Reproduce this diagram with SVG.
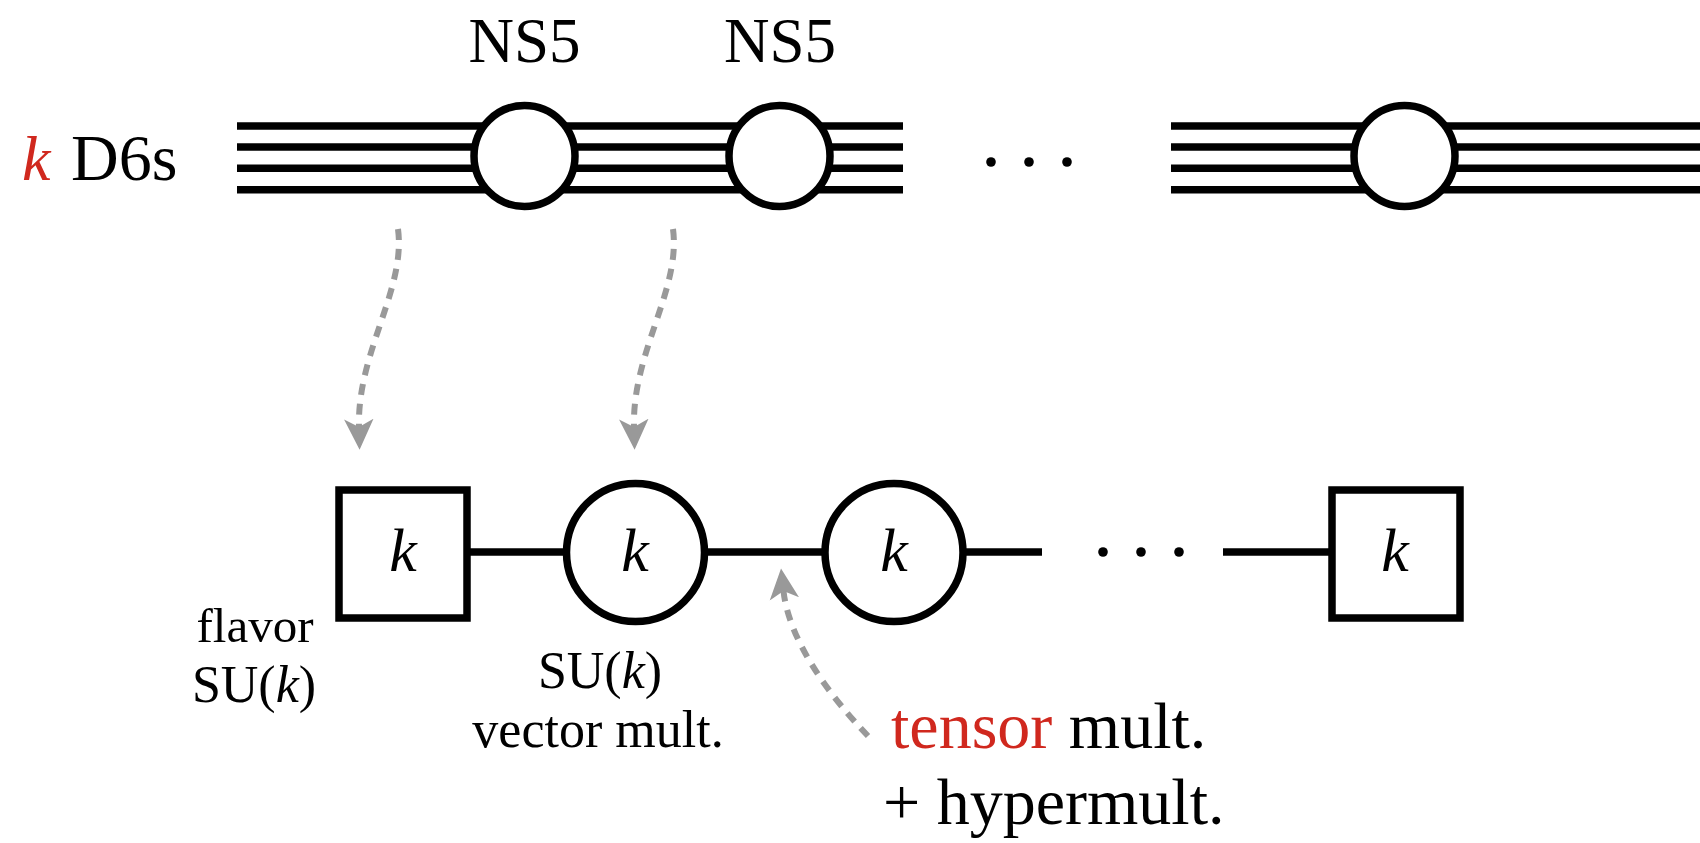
<svg xmlns="http://www.w3.org/2000/svg" width="1700" height="843" viewBox="0 0 1700 843">
  <style>
    text { font-family: "Liberation Serif", "DejaVu Serif", serif; fill: #000; }
    .it { font-style: italic; }
    .red { fill: #d0281e; }
    .brane { stroke: #000; stroke-width: 7.5; fill: none; }
    .ns5 { stroke: #000; stroke-width: 7.5; fill: #fff; }
    .node { stroke: #000; stroke-width: 7.5; fill: #fff; }
    .edge { stroke: #000; stroke-width: 7.5; fill: none; }
    .map { stroke: #999; stroke-width: 6; fill: none; stroke-dasharray: 11 9; }
    .dot { fill: #000; }
  </style>
  <defs>
    <marker id="stealth" markerUnits="userSpaceOnUse" markerWidth="34" markerHeight="34"
            viewBox="0 -15 30 30" refX="7" refY="0" orient="auto">
      <path d="M0,-13 L27,0 L0,13 L7,0 Z" fill="#999"/>
    </marker>
  </defs>

  <rect width="1700" height="843" fill="#fff"/>

  <!-- stack of k D6-branes -->
  <g id="d6-branes">
    <g class="brane">
      <line x1="237" y1="126" x2="903" y2="126"/>
      <line x1="237" y1="147" x2="903" y2="147"/>
      <line x1="237" y1="168.3" x2="903" y2="168.3"/>
      <line x1="237" y1="189.7" x2="903" y2="189.7"/>
      <line x1="1171" y1="126" x2="1700" y2="126"/>
      <line x1="1171" y1="147" x2="1700" y2="147"/>
      <line x1="1171" y1="168.3" x2="1700" y2="168.3"/>
      <line x1="1171" y1="189.7" x2="1700" y2="189.7"/>
    </g>
    <circle class="dot" cx="991" cy="162" r="4.8"/>
    <circle class="dot" cx="1029" cy="162" r="4.8"/>
    <circle class="dot" cx="1067" cy="162" r="4.8"/>
  </g>
  <g id="d6-label">
    <text y="180" font-size="64"><tspan class="it red" x="22">k</tspan><tspan x="71" font-size="66">D6s</tspan></text>
  </g>

  <!-- NS5-branes crossing the stack -->
  <g id="ns5-1">
    <circle class="ns5" cx="524.5" cy="156" r="50.5"/>
    <text x="524.5" y="62" font-size="63" text-anchor="middle">NS5</text>
  </g>
  <g id="ns5-2">
    <circle class="ns5" cx="779.5" cy="156" r="50.5"/>
    <text x="780" y="62" font-size="63" text-anchor="middle">NS5</text>
  </g>
  <g id="ns5-n">
    <circle class="ns5" cx="1404.5" cy="156" r="50.5"/>
  </g>

  <!-- connectors: quiver edges and dashed correspondence arrows -->
  <g id="connectors">
    <line class="edge" x1="467" y1="552" x2="570" y2="552"/>
    <line class="edge" x1="700" y1="552" x2="830" y2="552"/>
    <line class="edge" x1="960" y1="552" x2="1042" y2="552"/>
    <line class="edge" x1="1223" y1="552" x2="1332" y2="552"/>
    <circle class="dot" cx="1103" cy="552" r="4.8"/>
    <circle class="dot" cx="1141" cy="552" r="4.8"/>
    <circle class="dot" cx="1179" cy="552" r="4.8"/>
    <path class="map" d="M398,229 C406,290 357,352 359,427" marker-end="url(#stealth)"/>
    <path class="map" d="M673,229 C681,290 632,352 634,427" marker-end="url(#stealth)"/>
    <path class="map" d="M868,736 C845,712 790,650 783.5,591" marker-end="url(#stealth)"/>
  </g>

  <!-- quiver nodes -->
  <g id="flavor-left">
    <rect class="node" x="339" y="490" width="128" height="128"/>
    <text class="it" x="403" y="571" font-size="62" text-anchor="middle">k</text>
    <text x="255" y="642" font-size="49" text-anchor="middle">flavor</text>
    <text x="254" y="701.5" font-size="52" text-anchor="middle">SU(<tspan class="it">k</tspan>)</text>
  </g>
  <g id="gauge-1">
    <circle class="node" cx="635.5" cy="552.5" r="69"/>
    <text class="it" x="635" y="571" font-size="62" text-anchor="middle">k</text>
    <text x="600" y="688" font-size="52" text-anchor="middle">SU(<tspan class="it">k</tspan>)</text>
    <text x="598" y="746.5" font-size="52" text-anchor="middle">vector mult.</text>
  </g>
  <g id="gauge-2">
    <circle class="node" cx="894" cy="552.5" r="69"/>
    <text class="it" x="894" y="571" font-size="62" text-anchor="middle">k</text>
  </g>
  <g id="flavor-right">
    <rect class="node" x="1332" y="490" width="128" height="128"/>
    <text class="it" x="1395" y="571" font-size="62" text-anchor="middle">k</text>
  </g>

  <!-- bifundamental label -->
  <g id="tensor-label">
    <text x="891" y="748" font-size="66"><tspan class="red">tensor</tspan> mult.</text>
    <text x="883" y="824" font-size="66">+ hypermult.</text>
  </g>
</svg>
